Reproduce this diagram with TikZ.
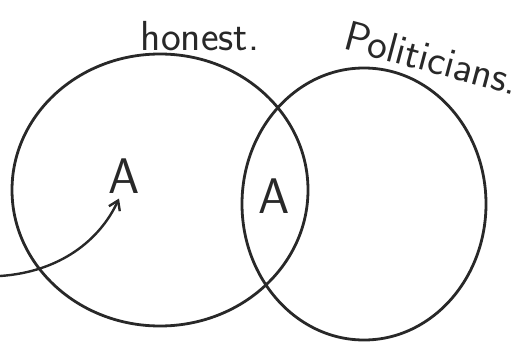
\documentclass[tikz,border=0pt]{standalone}
\usepackage{tikz}
\usetikzlibrary{arrows.meta,positioning,calc,shapes.geometric}
\definecolor{pencil}{RGB}{40,40,40}
\tikzset{
  setline/.style={ellipse, draw=pencil, line width=2.8pt, inner sep=0pt},
  setlab/.style={font=\sffamily\fontsize{42}{46}\selectfont, text=pencil},
  elem/.style={font=\sffamily\fontsize{50}{54}\selectfont, text=pencil, inner sep=1pt},
  parr/.style={-{Straight Barb[length=9pt,width=12pt]}, pencil, line width=2.4pt},
}
\begin{document}
\begin{tikzpicture}[x=1pt, y=-1pt]
\useasboundingbox (0,0) rectangle (530,345);
\node[setline, minimum width=296pt, minimum height=272pt] (honestset) at (160,190) {};
\node[setline, minimum width=244pt, minimum height=272pt] (polset) at (364,204) {};
\node[setlab] (honestlab) at (200,36) {honest.};
\node[setlab, rotate=-15] (pollab) at (432,58) {Politicians.};
\node[elem] (onlyhonest) at (124,176) {A};
\node[elem] (both) at (274,196) {A};
\coordinate (arrtail) at (0,276);
\draw[parr] (arrtail) .. controls (60,272) and (100,240) .. ($(onlyhonest.south)+(-5,4)$);
\end{tikzpicture}
\end{document}
